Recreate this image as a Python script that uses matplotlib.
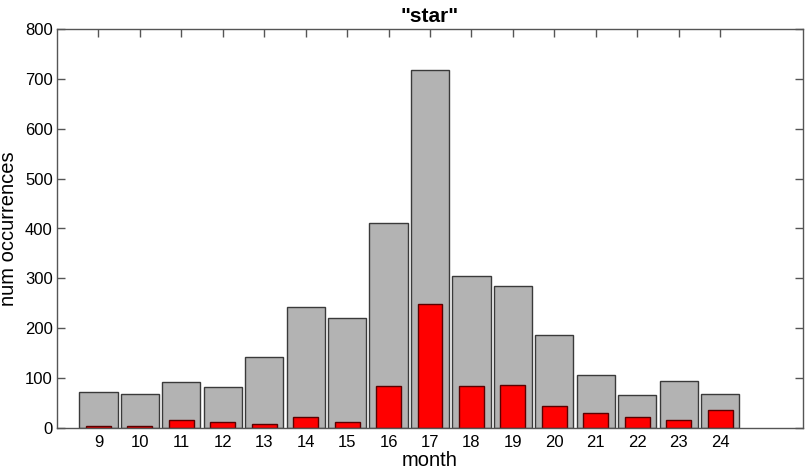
import matplotlib
matplotlib.use("Agg")
import matplotlib.pyplot as plt

months = [9, 10, 11, 12, 13, 14, 15, 16, 17, 18, 19, 20, 21, 22, 23, 24]
total = [72, 69, 92, 83, 142, 243, 221, 411, 717, 304, 285, 187, 106, 66, 94, 69]
star = [5, 5, 16, 13, 8, 22, 13, 84, 249, 84, 86, 44, 30, 22, 16, 36]
yticks = [0, 100, 200, 300, 400, 500, 600, 700, 800]

plt.rcParams['font.family'] = ['Liberation Sans', 'DejaVu Sans']

fig = plt.figure(figsize=(8.05, 4.73), dpi=100)
ax = fig.add_axes([57/805, 45/473, (803-57)/805, (428-29)/473])

ax.bar(months, total, width=0.92, color='#b3b3b3', edgecolor='#3a3a3a', linewidth=1.0, align='center', zorder=1)
ax.bar(months, star, width=0.6, color='#ff0000', edgecolor='#5a0000', linewidth=1.0, align='center', zorder=2)

ax.set_xlim(8, 26)
ax.set_ylim(0, 800)
ax.set_xticks(months)
ax.set_xticklabels([str(m) for m in months], fontsize=12)
ax.set_yticks(yticks)
ax.set_yticklabels([str(v) for v in yticks], fontsize=12)
ax.tick_params(axis='x', direction='in', length=6, width=1, color='#555555', top=True, bottom=False, pad=5)
ax.tick_params(axis='y', direction='in', length=6, width=1, color='#555555', left=True, right=True, pad=3)
for s in ax.spines.values():
    s.set_color('#555555')
    s.set_linewidth(1.0)

ax.set_xlabel('month', fontsize=14.5, labelpad=1)
ax.set_ylabel('num occurrences', fontsize=14.5, labelpad=5)
ax.set_title('"star"', fontsize=15, fontweight='bold', pad=5)

fig.savefig('out.png', dpi=100)
